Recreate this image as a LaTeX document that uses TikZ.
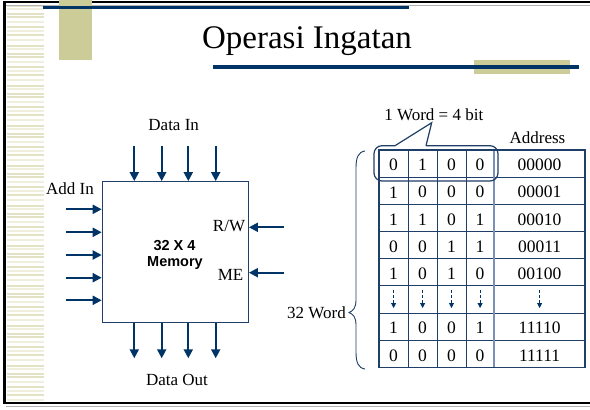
\documentclass[tikz,border=0pt]{standalone}
\usepackage{fontspec}
\setmainfont{Liberation Serif}
\newfontfamily\sansb{Liberation Sans}
\usetikzlibrary{arrows.meta}
\definecolor{tan}{RGB}{204,204,153}
\definecolor{navy}{RGB}{0,51,102}
\definecolor{boxblue}{RGB}{31,62,104}
\definecolor{midblue}{RGB}{120,145,180}
\definecolor{stripeA}{RGB}{228,226,196}
\definecolor{stripeB}{RGB}{240,239,222}
\begin{document}
\begin{tikzpicture}[x=1pt,y=-1pt,
  lbl/.style={font=\fontsize{17}{20}\selectfont, inner sep=0pt, anchor=base},
  cell/.style={font=\fontsize{17.5}{20}\selectfont, inner sep=0pt},
  arr/.style={draw=navy, line width=2pt, -{Triangle[length=9pt,width=9pt]}},
  darr/.style={draw=navy, line width=0.8pt, dash pattern=on 3pt off 2pt, -{Triangle[length=5pt,width=5pt]}},
  tline/.style={draw=boxblue, line width=1pt},
]
\useasboundingbox (0,0) rectangle (590,410);
% left stripes
\foreach \b in {0,40,...,360}{
  \foreach \o/\c in {6/stripeA,9/stripeB,14/stripeA,17/stripeA,22/stripeB,27/stripeA,31/stripeB,35/stripeA,40/stripeB}{
    \pgfmathsetmacro{\yy}{\b+\o}
    \ifdim\yy pt<402pt
      \draw[\c, line width=1.5pt] (7,\yy) -- (44,\yy);
    \fi
  }
}
% frame
\draw[line width=3pt] (4.5,1) -- (4.5,404);
\draw[line width=2.5pt] (3,2) -- (590,2);
\draw[gray!60, line width=0.8pt] (6,5) -- (590,5);
\draw[line width=2.5pt] (3,403) -- (590,403);
\draw[gray!60, line width=0.8pt] (6,406) -- (590,406);
% header decoration
\fill[tan] (59,0) rectangle (91.7,60);
\fill[navy] (43.3,6) rectangle (409,9.3);
\fill[tan] (474,60) rectangle (570,73.7);
\fill[navy] (212.7,65) rectangle (578.7,68.7);
\node[font=\fontsize{33}{36}\selectfont, inner sep=0pt, anchor=base] (title) at (307,48.5) {Operasi Ingatan};

% memory block
\node[draw=boxblue, line width=1.2pt, minimum width=146pt, minimum height=141pt, inner sep=0pt] (mem) at (175.3,252.2) {};
\node[font=\sansb\bfseries\fontsize{14.5}{16}\selectfont, inner sep=0pt, anchor=base] (m1) at (174.5,250) {32 X 4};
\node[font=\sansb\bfseries\fontsize{14.5}{16}\selectfont, inner sep=0pt, anchor=base] (m2) at (175,266) {Memory};
\node[lbl] (datain) at (173.7,130) {Data In};
\node[lbl] (dataout) at (177,385) {Data Out};
\node[lbl] (addin) at (70,194.3) {Add In};
\node[lbl] (rw) at (229,231) {R/W};
\node[lbl] (me) at (230.5,280) {ME};

\foreach \i/\x in {1/134.3,2/161.7,3/188.3,4/215.7}{
  \coordinate (di\i) at (\x,145.7);
  \coordinate (do\i) at (\x,358.3);
  \draw[arr] (di\i) -- (di\i |- mem.north);
  \draw[arr] (do\i |- mem.south) -- (do\i);
}
\foreach \i/\y in {1/209.3,2/232.3,3/255,4/277.7,5/300.3}{
  \coordinate (ai\i) at (66,\y);
  \draw[arr] (ai\i) -- (ai\i -| mem.west);
}
\coordinate (rwin) at (284,227.3);
\coordinate (mein) at (284,272.7);
\draw[arr] (rwin) -- (rwin -| mem.east);
\draw[arr] (mein) -- (mein -| mem.east);

% table
\def\rh{27.17}
\foreach \r in {1,...,7}{
  \draw[tline] (379,150+\r*\rh) -- (585,150+\r*\rh);
}
\foreach \x in {408.3,437,466}{
  \draw[tline] (\x,150) -- (\x,367.4);
}
\draw[draw=midblue, line width=2pt] (494.3,150) -- (494.3,367.4);
\draw[draw=boxblue, line width=1.8pt] (379,150) rectangle (585,367.4);

\foreach \r/\a/\b/\c/\d/\e in {0/0/1/0/0/00000,1/1/0/0/0/00001,2/1/1/0/1/00010,3/0/0/1/1/00011,4/1/0/1/0/00100,6/1/0/0/1/11110,7/0/0/0/0/11111}{
  \pgfmathsetmacro{\yc}{150+(\r+0.5)*\rh+1.5}
  \node[cell] (c\r a) at (393.6,\yc) {\a};
  \node[cell] (c\r b) at (422.6,\yc) {\b};
  \node[cell] (c\r c) at (451.5,\yc) {\c};
  \node[cell] (c\r d) at (480.1,\yc) {\d};
  \node[cell] (c\r e) at (539.6,\yc) {\e};
}
\foreach \n/\x in {1/393.6,2/422.6,3/451.5,4/480.1,5/539.6}{
  \coordinate (ds\n) at (\x,150+5*\rh+4);
  \coordinate (de\n) at (\x,150+6*\rh-5);
  \draw[darr] (ds\n) -- (de\n);
}
\node[lbl] (addr) at (537.5,143.3) {Address};
\node[lbl] (word) at (433.8,120.7) {1 Word = 4 bit};
% callout
\draw[draw=boxblue, line width=1.2pt, rounded corners=8pt]
  (426,145.7) -- (498,145.7) -- (498,181) -- (374,181) -- (374,145.7) -- (395,145.7);
\draw[draw=boxblue, line width=1.2pt, line join=miter] (395,145.7) -- (431.7,122.7) -- (426,145.7);
% brace
\draw[draw=boxblue, line width=0.9pt]
  (365,151) .. controls (358,152) and (356,158) .. (356,168) -- (356,300)
  .. controls (356,308) and (353,311) .. (349,312.5)
  .. controls (353,314) and (356,317) .. (356,325) -- (356,352)
  .. controls (356,362) and (358,368) .. (365,369);
\node[lbl, anchor=base east] (w32) at (346,318) {32 Word};
\end{tikzpicture}
\end{document}
